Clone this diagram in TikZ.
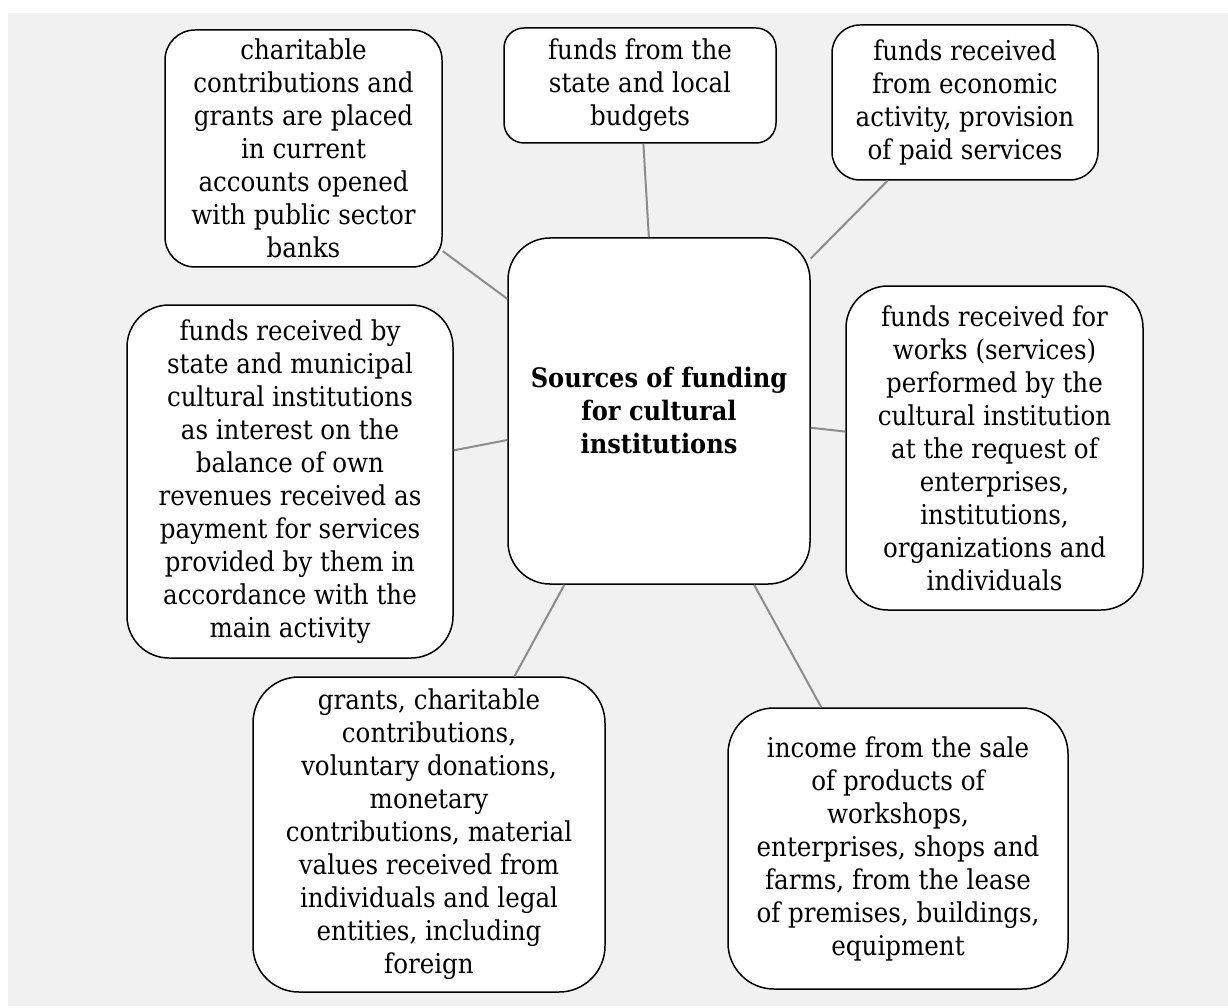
\documentclass[tikz,border=0pt]{standalone}
\usepackage{fontspec}
\setmainfont{DejaVu Serif Condensed}
\begin{document}
\begin{tikzpicture}[x=1pt,y=-1pt,
  box/.style={draw=black,line width=1.5pt,fill=white,rounded corners=#1,
    align=center,inner sep=0pt,font=\fontsize{27.3}{33}\selectfont},
  box/.default=30pt,
  link/.style={draw=linkgray,line width=2pt}]
\definecolor{bggray}{HTML}{F1F1F1}
\definecolor{linkgray}{HTML}{8C8C8C}
\useasboundingbox (0,0) rectangle (1228,1008);
\fill[bggray] (8,13) rectangle (1228,1006);

\node[box=42pt,minimum width=302pt,minimum height=346pt,font=\fontsize{26.8}{33}\selectfont\bfseries] (hub) at (659,411)
  {Sources of funding\\for cultural\\institutions};

\node[box=30pt,minimum width=277pt,minimum height=237pt] (nA) at (303.5,148.5)
  {charitable\\contributions and\\grants are placed\\in current\\accounts opened\\with public sector\\banks};
\node[box=20pt,minimum width=272pt,minimum height=115pt] (nB) at (640,85.5)
  {funds from the\\state and local\\budgets};
\node[box=28pt,minimum width=266pt,minimum height=155pt] (nC) at (965,102.5)
  {funds received\\from economic\\activity, provision\\of paid services};
\node[box=42pt,minimum width=326pt,minimum height=353pt] (nD) at (290,481.5)
  {funds received by\\state and municipal\\cultural institutions\\as interest on the\\balance of own\\revenues received as\\payment for services\\provided by them in\\accordance with the\\main activity};
\node[box=42pt,minimum width=297pt,minimum height=324pt] (nE) at (994.5,448)
  {funds received for\\works (services)\\performed by the\\cultural institution\\at the request of\\enterprises,\\institutions,\\organizations and\\individuals};
\node[box=46pt,minimum width=352pt,minimum height=315pt] (nF) at (429,834.5)
  {grants, charitable\\contributions,\\voluntary donations,\\monetary\\contributions, material\\values received from\\individuals and legal\\entities, including\\foreign};
\node[box=46pt,minimum width=340pt,minimum height=281pt] (nG) at (898,848.5)
  {income from the sale\\of products of\\workshops,\\enterprises, shops and\\farms, from the lease\\of premises, buildings,\\equipment};

\draw[link] (hub) -- (nA);
\draw[link] (hub) -- (nB);
\draw[link] (hub) -- (nC);
\draw[link] (hub) -- (nD);
\draw[link] (hub) -- (nE);
\draw[link] (hub) -- (nF);
\draw[link] (hub) -- (nG);
\end{tikzpicture}
\end{document}
